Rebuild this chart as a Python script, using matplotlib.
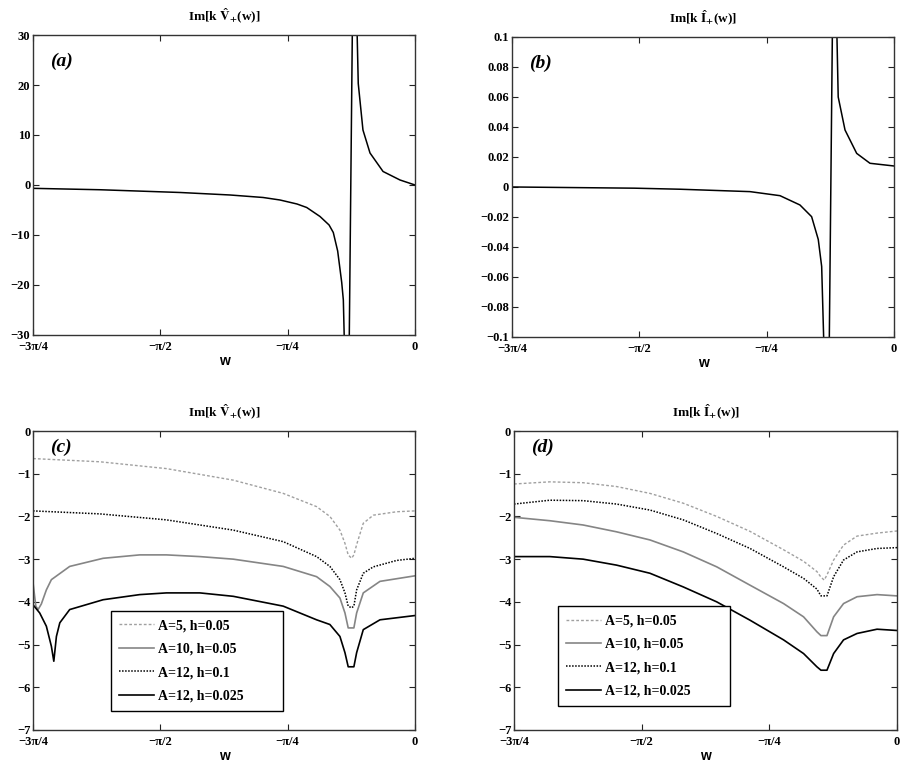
import numpy as np
import matplotlib
matplotlib.use("Agg")
import matplotlib.pyplot as plt
from matplotlib.ticker import FuncFormatter

plt.rcParams['font.family'] = ['Liberation Serif', 'DejaVu Serif']
plt.rcParams['font.weight'] = 'bold'
plt.rcParams['mathtext.fontset'] = 'stix'

# ---- panel (a): Im[k V+(w)], single curve with a pole
wa = [-2.356, -1.943, -1.449, -1.141, -0.937, -0.833, -0.728, -0.668, -0.586, -0.530, -0.504,
      -0.477, -0.452, -0.442, -0.4145, -0.3775, -0.350, -0.321, -0.2775, -0.197, -0.0925, 0.0]
va = [-0.67, -0.95, -1.5, -2.0, -2.5, -3.0, -3.8, -4.5, -6.3, -8.0, -9.5,
      -13.2, -19.5, -23.0, -60.0, 60.0, 20.3, 11.0, 6.4, 2.7, 1.0, 0.0]

# ---- panel (b): Im[k I+(w)]
wb = [-2.356, -1.6, -1.320, -0.888, -0.703, -0.580, -0.508, -0.467, -0.446, -0.408,
      -0.371, -0.344, -0.302, -0.230, -0.148, 0.0]
vb = [0.0, -0.0008, -0.0015, -0.0031, -0.0058, -0.012, -0.0198, -0.035, -0.053, -0.2,
      0.2, 0.060, 0.038, 0.0224, 0.0158, 0.014]

labels = ["A=5, h=0.05", "A=10, h=0.05", "A=12, h=0.1", "A=12, h=0.025"]

# ---- panel (c): Im[k V+(w)] for four parameter sets
wc = [-2.356, -1.944, -1.533, -1.121, -0.813, -0.607, -0.525, -0.463, -0.432, -0.412,
      -0.391, -0.377, -0.360, -0.319, -0.257, -0.113, 0.0]
c_a5 = [-0.645, -0.72, -0.88, -1.15, -1.46, -1.77, -2.0, -2.32, -2.63, -2.9,
        -2.98, -2.9, -2.66, -2.16, -1.97, -1.89, -1.87]
c_a12_h1 = [-1.87, -1.94, -2.08, -2.32, -2.59, -2.94, -3.17, -3.48, -3.79, -4.1,
            -4.14, -4.1, -3.72, -3.33, -3.18, -3.03, -2.98]
wc_a10 = [-2.356, -2.339, -2.325, -2.305, -2.274, -2.243, -2.130, -1.924, -1.698, -1.533,
          -1.327, -1.121, -0.813, -0.607, -0.525, -0.463, -0.432, -0.412, -0.377, -0.360,
          -0.319, -0.216, 0.0]
c_a10 = [-3.56, -4.1, -4.18, -4.05, -3.72, -3.48, -3.17, -2.98, -2.9, -2.9,
         -2.94, -3.0, -3.17, -3.41, -3.64, -3.91, -4.26, -4.61, -4.61, -4.26,
         -3.79, -3.52, -3.39]
wc_a12_h025 = [-2.356, -2.315, -2.274, -2.243, -2.228, -2.212, -2.191, -2.130, -1.924, -1.698,
               -1.533, -1.327, -1.121, -0.813, -0.607, -0.525, -0.463, -0.432, -0.412, -0.377,
               -0.360, -0.319, -0.216, 0.0]
c_a12_h025 = [-4.07, -4.26, -4.57, -5.04, -5.39, -4.81, -4.49, -4.18, -3.95, -3.83,
              -3.79, -3.79, -3.87, -4.1, -4.42, -4.53, -4.81, -5.19, -5.52, -5.52,
              -5.19, -4.65, -4.42, -4.32]

# ---- panel (d): Im[k I+(w)] for four parameter sets
wd = [-2.356, -2.136, -1.931, -1.725, -1.520, -1.315, -1.109, -0.904, -0.698, -0.575,
      -0.493, -0.468, -0.448, -0.431, -0.390, -0.329, -0.246, -0.123, 0.0]
d_a5 = [-1.24, -1.19, -1.21, -1.30, -1.46, -1.69, -2.0, -2.35, -2.78, -3.05,
        -3.29, -3.42, -3.49, -3.37, -3.02, -2.67, -2.46, -2.39, -2.34]
d_a10 = [-2.02, -2.10, -2.20, -2.36, -2.55, -2.83, -3.18, -3.61, -4.04, -4.35,
         -4.70, -4.79, -4.79, -4.79, -4.35, -4.04, -3.88, -3.83, -3.86]
d_a12_h1 = [-1.71, -1.62, -1.63, -1.71, -1.85, -2.08, -2.40, -2.75, -3.18, -3.45,
            -3.70, -3.86, -3.86, -3.86, -3.41, -3.02, -2.83, -2.75, -2.73]
d_a12_h025 = [-2.94, -2.94, -3.0, -3.14, -3.33, -3.65, -4.0, -4.43, -4.89, -5.21,
              -5.52, -5.6, -5.6, -5.6, -5.21, -4.89, -4.74, -4.64, -4.67]

xticks = [-3*np.pi/4, -np.pi/2, -np.pi/4, 0]
xticklabels = ["\u22123\u03c0/4", "\u2212\u03c0/2", "\u2212\u03c0/4", "0"]

title_v = r"Im[k $\mathbf{\hat{V}_{+}}$(w)]"
title_i = r"Im[k $\mathbf{\hat{I}_{+}}$(w)]"

styles = [dict(color="#a0a0a0", lw=1.0, ls=(0, (2, 1.5))),
          dict(color="#858585", lw=1.2, ls="-"),
          dict(color="black", lw=1.1, ls=(0, (1, 1))),
          dict(color="black", lw=1.2, ls="-")]

fig = plt.figure(figsize=(9, 7.66), dpi=100)
ax_a = fig.add_axes([0.0367, 0.5627, 0.4244, 0.3916])
ax_b = fig.add_axes([0.5689, 0.5601, 0.4244, 0.3916])
ax_c = fig.add_axes([0.0367, 0.0470, 0.4244, 0.3903])
ax_d = fig.add_axes([0.5711, 0.0470, 0.4256, 0.3903])

def fmt(v, pos):
    return ("%g" % v).replace("-", "\u2212")

def style_axes(ax, title, tag, tagy):
    ax.set_xlim(-3*np.pi/4, 0)
    ax.set_xticks(xticks)
    ax.set_xticklabels(xticklabels)
    ax.tick_params(direction="in", top=True, right=True, length=4, width=0.8,
                   labelsize=9, pad=2, colors="#222222", labelcolor="black")
    ax.tick_params(axis="x", pad=4)
    for s in ax.spines.values():
        s.set_linewidth(1.0)
        s.set_color("#333333")
    ax.yaxis.set_major_formatter(FuncFormatter(fmt))
    ax.set_title(title, fontsize=9.5, fontweight="bold", pad=10)
    ax.set_xlabel("w", fontfamily="Liberation Sans", fontweight="bold", fontsize=10, labelpad=1)
    ax.text(0.045, tagy, tag, transform=ax.transAxes, ha="left", va="top",
            fontsize=14, fontweight="bold", fontstyle="italic")

ax_a.plot(wa, va, color="black", lw=1.1)
ax_a.set_ylim(-30, 30)
ax_a.set_yticks(np.arange(-30, 31, 10))
style_axes(ax_a, title_v, "(a)", 0.94)

ax_b.plot(wb, vb, color="black", lw=1.1)
ax_b.set_ylim(-0.1, 0.1)
ax_b.set_yticks(np.linspace(-0.1, 0.1, 11))
style_axes(ax_b, title_i, "(b)", 0.94)

ax_c.plot(wc, c_a5, label=labels[0], **styles[0])
ax_c.plot(wc_a10, c_a10, label=labels[1], **styles[1])
ax_c.plot(wc, c_a12_h1, label=labels[2], **styles[2])
ax_c.plot(wc_a12_h025, c_a12_h025, label=labels[3], **styles[3])
ax_c.set_ylim(-7, 0)
ax_c.set_yticks(np.arange(-7, 1, 1))
style_axes(ax_c, title_v, "(c)", 0.975)

ax_d.plot(wd, d_a5, label=labels[0], **styles[0])
ax_d.plot(wd, d_a10, label=labels[1], **styles[1])
ax_d.plot(wd, d_a12_h1, label=labels[2], **styles[2])
ax_d.plot(wd, d_a12_h025, label=labels[3], **styles[3])
ax_d.set_ylim(-7, 0)
ax_d.set_yticks(np.arange(-7, 1, 1))
style_axes(ax_d, title_i, "(d)", 0.975)

for ax, anchor in [(ax_c, (0.204, 0.064, 0.450, 0.338)), (ax_d, (0.115, 0.080, 0.449, 0.338))]:
    leg = ax.legend(loc="lower left", bbox_to_anchor=anchor, mode="expand", fontsize=10,
                    fancybox=False, framealpha=1, edgecolor="black",
                    handlelength=2.5, handletextpad=0.3, labelspacing=0.75,
                    borderpad=0.6, borderaxespad=0)
    leg.get_frame().set_linewidth(1.0)

fig.savefig("out.png", dpi=100)
